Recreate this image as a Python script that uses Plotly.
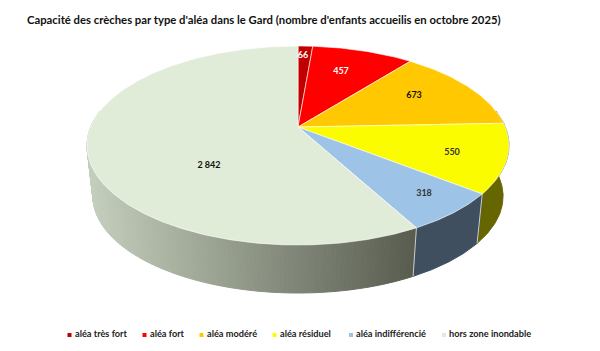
import numpy as np
import plotly.graph_objects as go

# --- data
categories = ["aléa très fort", "aléa fort", "aléa modéré", "aléa résiduel", "aléa indifférencié", "hors zone inondable"]
values = [66, 457, 673, 550, 318, 2842]
value_labels = ["66", "457", "673", "550", "318", "2 842"]

# --- style
top_colors = ["#C00000", "#FF0000", "#FFC800", "#FCFC00", "#9DC3E6", "#E0ECD8"]
side_colors = ["#800000", "#A00000", "#8A6C00", "#666600", "#3F4F60", None]
label_colors = ["#FFFFFF", "#FFFFFF", "#111111", "#333333", "#333333", "#111111"]
side_light = np.array([0xC4, 0xCE, 0xBC])
side_dark = np.array([0x58, 0x5C, 0x4F])

# --- layout constants (pixels; axes below map 1 unit to 1 pixel)
W, H = 600, 351
APEX = (298.0, 127.0)
K, A, C = 207.3, 96.06, 0.186      # perspective of the pie's top face
DEPTH = 51.3
BOTTOM_SCALE = 0.972
label_x = [303, 341, 414, 452, 424, 209]
label_y = [56, 72, 96, 153, 194, 166]
legend_swatch_x = [69.5, 144.5, 201.5, 274.5, 351, 444]
legend_text_x = [75, 150, 207, 280, 356, 449]
LEGEND_Y = 335


def rim(theta_deg, depth=0.0, scale=1.0):
    t = np.radians(theta_deg)
    u, v = np.sin(t), np.cos(t)
    d = 1 + C * v
    return APEX[0] + scale * K * u / d, APEX[1] + depth - scale * A * v / d


total = sum(values)
edges = np.concatenate([[0], np.cumsum(values)]) / total * 360

fig = go.Figure()


def poly(xs, ys, color, line=None, width=0.0):
    fig.add_trace(go.Scatter(
        x=np.round(xs, 2), y=np.round(ys, 2), mode="lines", fill="toself",
        fillcolor=color, line=dict(color=line or color, width=width or 1.0),
        hoverinfo="skip", showlegend=False))


# side wall (painted first, the top face covers its hidden part)
x_left = rim(270)[0]
for i in range(len(values)):
    a0, a1 = max(edges[i], 80.0), min(edges[i + 1], 280.0)
    if a1 <= a0:
        continue
    if side_colors[i] is not None:
        th = np.linspace(a0, a1, 60)
        xt, yt = rim(th)
        xb, yb = rim(th, DEPTH, BOTTOM_SCALE)
        poly(np.r_[xt, xb[::-1], xt[0]], np.r_[yt, yb[::-1], yt[0]], side_colors[i])
    else:
        steps = np.linspace(a0, a1, int((a1 - a0) / 1.0) + 2)
        for s0, s1 in zip(steps[:-1], steps[1:]):
            xt, yt = rim(np.array([s0, s1]))
            xb, yb = rim(np.array([s0, s1]), DEPTH, BOTTOM_SCALE)
            f = np.clip((xt.mean() - x_left) / (417 - x_left), 0, 1)
            r, g, b = (side_light + (side_dark - side_light) * f).astype(int)
            col = f"rgb({r},{g},{b})"
            poly(np.r_[xt, xb[::-1], xt[0]], np.r_[yt, yb[::-1], yt[0]], col)

# light seams on the side wall
for e in edges[4:5 + 1]:
    xt, yt = rim(np.array([e]))
    xb, yb = rim(np.array([e]), DEPTH, BOTTOM_SCALE)
    fig.add_trace(go.Scatter(x=[xt[0], xb[0]], y=[yt[0], yb[0]], mode="lines",
                             line=dict(color="#C8CCD0", width=1),
                             hoverinfo="skip", showlegend=False))

# top face
for i in range(len(values)):
    th = np.linspace(edges[i], edges[i + 1], max(int(edges[i + 1] - edges[i]) * 2, 8))
    x, y = rim(th)
    xs = np.r_[APEX[0], x, APEX[0]]
    ys = np.r_[APEX[1], y, APEX[1]]
    poly(xs, ys, top_colors[i], line="rgba(255,255,255,0.75)", width=0.8)

# value labels
fig.add_trace(go.Scatter(
    x=label_x, y=label_y, mode="text", text=value_labels,
    textposition="middle center",
    textfont=dict(family="Lato", size=9, color=label_colors, weight="bold"),
    hoverinfo="skip", showlegend=False))

# legend row
fig.add_trace(go.Scatter(
    x=legend_swatch_x, y=[LEGEND_Y] * 6, mode="markers",
    marker=dict(symbol="square", size=4, color=top_colors),
    hoverinfo="skip", showlegend=False))
fig.add_trace(go.Scatter(
    x=legend_text_x, y=[LEGEND_Y] * 6, mode="text", text=categories,
    textposition="middle right",
    textfont=dict(family="Lato", size=9.2, color="#222222", weight="bold"),
    hoverinfo="skip", showlegend=False))

fig.update_layout(
    width=W, height=H, margin=dict(l=0, r=0, t=0, b=0), autosize=False,
    paper_bgcolor="white", plot_bgcolor="white", showlegend=False,
    title=dict(text="<b>Capacité des crèches par type d'aléa dans le Gard (nombre d'enfants accueilis en octobre 2025)</b>",
               x=27 / W, xanchor="left", y=1 - 20 / H, yanchor="middle",
               font=dict(family="Lato", size=11.3, color="#111111")),
    xaxis=dict(range=[0, W], visible=False, fixedrange=True),
    yaxis=dict(range=[H, 0], visible=False, fixedrange=True),
)
fig.write_html("out.html", config={"displayModeBar": False},
               post_script="document.body.style.margin='0';document.documentElement.style.overflow='hidden';")
